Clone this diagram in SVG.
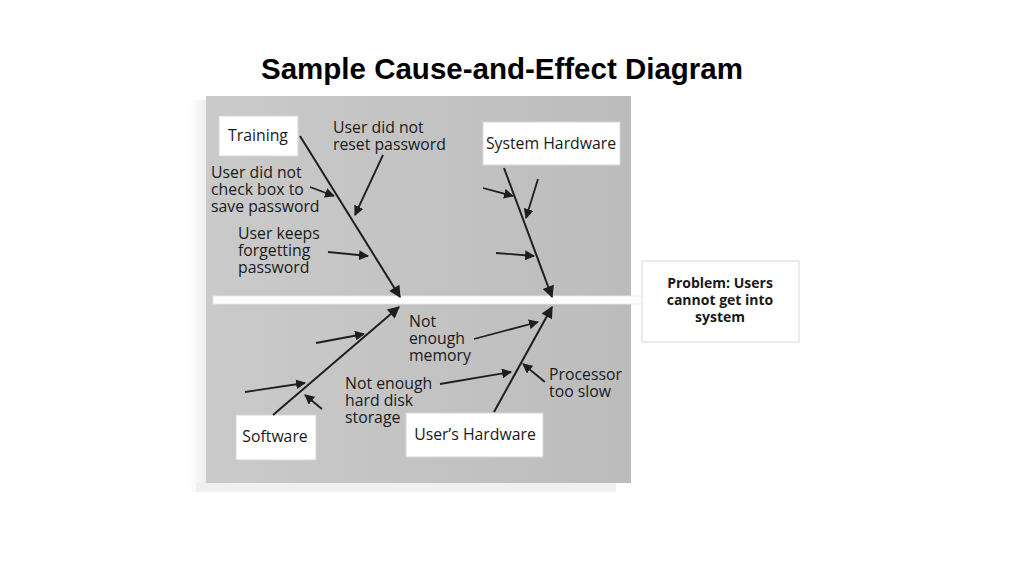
<svg xmlns="http://www.w3.org/2000/svg" width="1024" height="576" viewBox="0 0 1024 576">
<defs>
<marker id="ah" viewBox="0 0 10 10" refX="9" refY="5" markerWidth="10" markerHeight="10" markerUnits="userSpaceOnUse" orient="auto">
<path d="M0,0 L10,5 L0,10 z" fill="#1e1e1e"/>
</marker>
<marker id="ahs" viewBox="0 0 10 10" refX="9" refY="5" markerWidth="14" markerHeight="12" markerUnits="userSpaceOnUse" orient="auto">
<path d="M0,0 L10,5 L0,10 z" fill="#1e1e1e"/>
</marker>
<linearGradient id="pg" x1="0" y1="0" x2="1" y2="0">
<stop offset="0" stop-color="#cacaca"/>
<stop offset="0.5" stop-color="#c3c3c3"/>
<stop offset="1" stop-color="#bcbcbc"/>
</linearGradient>
<linearGradient id="sh" x1="0" y1="0" x2="1" y2="0">
<stop offset="0" stop-color="#ffffff"/>
<stop offset="1" stop-color="#eeeeee"/>
</linearGradient>
</defs>
<style>
.t{font-family:"Open Sans","Noto Sans",sans-serif;font-size:15.8px;fill:#1a1a1a}
.box{fill:#ffffff;stroke:#d8d8d8;stroke-width:1}
.bone{stroke:#1e1e1e;stroke-width:2;fill:none;marker-end:url(#ahs)}
.sub{stroke:#1e1e1e;stroke-width:1.8;fill:none;marker-end:url(#ah)}
.title{font-family:"Liberation Sans",Arial,sans-serif;font-size:29.5px;font-weight:bold;fill:#000}
.pb{font-family:"Open Sans","Noto Sans",sans-serif;font-size:14px;font-weight:bold;fill:#1a1a1a}
</style>
<rect width="1024" height="576" fill="#ffffff"/>
<text class="title" x="502" y="79" text-anchor="middle">Sample Cause-and-Effect Diagram</text>
<rect x="190" y="100" width="16" height="392" fill="url(#sh)"/>
<rect x="196" y="483" width="420" height="9" fill="#f0f0f0"/>
<rect x="206" y="96" width="425" height="387" fill="url(#pg)"/>
<g id="spine"><rect x="213" y="296" width="430" height="8" fill="#ffffff" stroke="#e6e6e6" stroke-width="0.8"/></g>
<g id="problem"><rect class="box" x="642" y="261" width="157" height="81"/>
<text class="pb" text-anchor="middle"><tspan x="720" y="288">Problem: Users</tspan><tspan x="720" y="305">cannot get into</tspan><tspan x="720" y="322">system</tspan></text></g>
<g id="training"><rect class="box" x="219" y="116" width="79" height="40"/><text class="t" x="258" y="141" text-anchor="middle">Training</text></g>
<g id="system-hardware"><rect class="box" x="483" y="122" width="137" height="43"/><text class="t" x="551" y="149" text-anchor="middle">System Hardware</text></g>
<g id="software"><rect class="box" x="236" y="415" width="80" height="45"/><text class="t" x="275" y="442" text-anchor="middle">Software</text></g>
<g id="users-hardware"><rect class="box" x="406" y="413" width="137" height="44"/><text class="t" x="475" y="440" text-anchor="middle">User’s Hardware</text></g>
<g id="labels">
<text class="t"><tspan x="333" y="133">User did not</tspan><tspan x="333" y="150">reset password</tspan></text>
<text class="t"><tspan x="211" y="178">User did not</tspan><tspan x="211" y="195">check box to</tspan><tspan x="211" y="212">save password</tspan></text>
<text class="t"><tspan x="238" y="239">User keeps</tspan><tspan x="238" y="256">forgetting</tspan><tspan x="238" y="273">password</tspan></text>
<text class="t"><tspan x="409" y="327">Not</tspan><tspan x="409" y="344">enough</tspan><tspan x="409" y="361">memory</tspan></text>
<text class="t"><tspan x="345" y="389">Not enough</tspan><tspan x="345" y="406">hard disk</tspan><tspan x="345" y="423">storage</tspan></text>
<text class="t"><tspan x="549" y="380">Processor</tspan><tspan x="549" y="397">too slow</tspan></text>
</g>
<g id="connectors">
<line class="bone" x1="300" y1="136" x2="400" y2="297"/>
<line class="sub" x1="383" y1="155" x2="355" y2="215"/>
<line class="sub" x1="310" y1="187" x2="334" y2="196"/>
<line class="sub" x1="328" y1="252" x2="368" y2="256"/>
<line class="bone" x1="504" y1="168" x2="552" y2="297"/>
<line class="sub" x1="483" y1="188" x2="513" y2="196"/>
<line class="sub" x1="538" y1="179" x2="526" y2="218"/>
<line class="sub" x1="496" y1="253" x2="534" y2="256"/>
<line class="bone" x1="273" y1="415" x2="399" y2="307"/>
<line class="sub" x1="316" y1="343" x2="364" y2="334"/>
<line class="sub" x1="245" y1="392" x2="305" y2="383"/>
<line class="sub" x1="322" y1="409" x2="305" y2="395"/>
<line class="bone" x1="494" y1="412" x2="552" y2="307"/>
<line class="sub" x1="474" y1="339" x2="538" y2="322"/>
<line class="sub" x1="440" y1="384" x2="511" y2="372"/>
<line class="sub" x1="545" y1="382" x2="523" y2="364"/>
</g>
</svg>
